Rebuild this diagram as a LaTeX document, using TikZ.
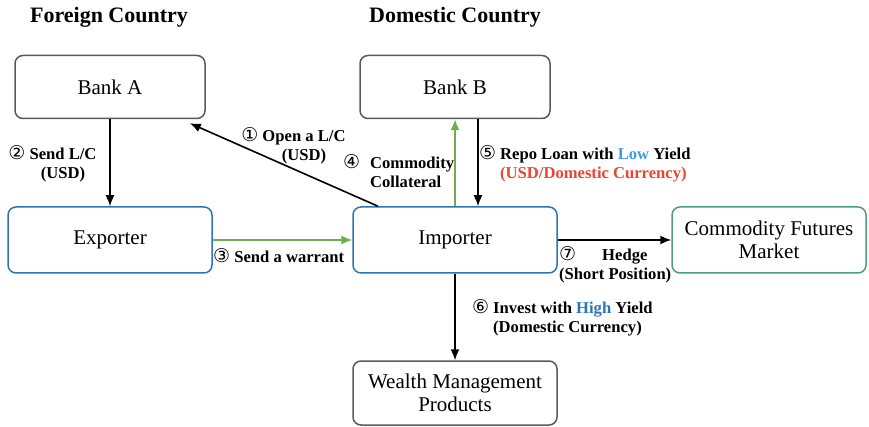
\documentclass[tikz,border=0pt]{standalone}
\usepackage{fontspec}
\setmainfont{Liberation Serif}
\newfontfamily\circfont{DejaVu Sans}
\usetikzlibrary{arrows.meta,calc}

\definecolor{boxgrey}{RGB}{90,90,90}
\definecolor{boxblue}{RGB}{46,117,182}
\definecolor{boxgreen}{RGB}{76,160,120}
\definecolor{arrowgreen}{RGB}{106,176,76}
\definecolor{lowblue}{RGB}{64,156,235}
\definecolor{highblue}{RGB}{46,117,182}
\definecolor{textred}{RGB}{230,70,50}

\newcommand{\cnum}[1]{{\circfont\mdseries\fontsize{19}{19}\selectfont #1}}

\begin{document}
\begin{tikzpicture}[x=1pt, y=-1pt,
    box/.style={draw=boxgrey, line width=1.5pt, rounded corners=8pt, minimum width=190pt, minimum height=63pt, align=center, font=\fontsize{21}{23}\selectfont},
    bluebox/.style={box, draw=boxblue, minimum width=204pt, minimum height=66pt},
    greenbox/.style={box, draw=boxgreen, minimum width=194pt, minimum height=66pt},
    title/.style={font=\fontsize{22}{26}\selectfont\bfseries},
    lbl/.style={font=\fontsize{16.6}{18.5}\selectfont\bfseries, inner sep=0pt},
    flow/.style={-{Latex[length=11pt,width=9pt]}, line width=1.6pt},
    greenflow/.style={flow, draw=arrowgreen}]

  \useasboundingbox (0,0) rectangle (869,427);

  % Titles
  \node[title] (foreign) at (109,17) {Foreign Country};
  \node[title] (domestic) at (455,17) {Domestic Country};

  % Boxes
  \node[box] (bankA) at (110,87) {Bank A};
  \node[box] (bankB) at (455,87) {Bank B};
  \node[bluebox] (exporter) at (110,240) {Exporter};
  \node[bluebox] (importer) at (455,240) {Importer};
  \node[greenbox] (futures) at (769,240) {Commodity Futures\\Market};
  \node[box, minimum width=204pt, minimum height=64pt] (wealth) at (455,393) {Wealth Management\\Products};

  % Flows
  \draw[flow] (bankA) -- (exporter);
  \draw[flow] ([xshift=-77pt]importer.north) -- ($(bankA.south east)+(-16,4)$);
  \draw[greenflow] (exporter) -- (importer);
  \draw[greenflow] (importer) -- (bankB);
  \draw[flow] ([xshift=23pt]bankB.south) -- ([xshift=23pt]importer.north);
  \draw[flow] (importer) -- (futures);
  \draw[flow] (importer) -- (wealth);

  % Labels
  \node[lbl, align=center] (open) at (304,146) {\llap{\cnum{①} }Open a L/C\\(USD)};
  \node[lbl, align=center] (send) at (63,164) {\llap{\cnum{②} }Send L/C\\(USD)};
  \node[lbl, anchor=west] (warrant) at (213,256) {\cnum{③} Send a warrant};
  \node[lbl, align=left, anchor=west] (collateral) at (370,171) {\llap{\cnum{④}\hspace{10pt}}Commodity\\Collateral};
  \node[lbl, align=left, anchor=west] (repo) at (500,164) {\llap{\cnum{⑤} }Repo Loan with \textcolor{lowblue}{Low} Yield\\\textcolor{textred}{(USD/Domestic Currency)}};
  \node[lbl, align=left, anchor=west] (invest) at (493,318) {\llap{\cnum{⑥} }Invest with \textcolor{highblue}{High} Yield\\(Domestic Currency)};
  \node[lbl, align=left, anchor=west] (hedge) at (559,265) {\cnum{⑦}\hspace{26pt}Hedge\\(Short Position)};

\end{tikzpicture}
\end{document}
